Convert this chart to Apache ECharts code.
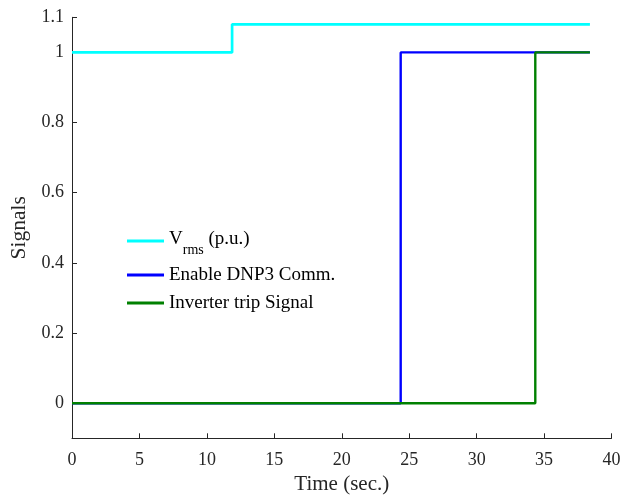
<!DOCTYPE html>
<html>
<head>
<meta charset="utf-8">
<script src="https://cdn.jsdelivr.net/npm/echarts@6/dist/echarts.min.js"></script>
<style>html,body{margin:0;padding:0;background:#fff}#c{width:630px;height:496px}</style>
</head>
<body>
<div id="c"></div>
<script>
const vrmsTime = [0, 11.87, 11.87, 38.4];
const vrmsValue = [1, 1, 1.08, 1.08];
const dnpTime = [0, 24.37, 24.37, 38.4];
const dnpValue = [0, 0, 1, 1];
const tripTime = [0, 34.35, 34.35, 38.4];
const tripValue = [0, 0, 1, 1];
const xTicks = [0, 5, 10, 15, 20, 25, 30, 35, 40];
const yTicks = [0, 0.2, 0.4, 0.6, 0.8, 1, 1.1];
const seriesNames = ['Vrms', 'Enable DNP3 Comm.', 'Inverter trip Signal'];

function pairs(t, v) { return t.map((x, i) => [x, v[i]]); }

const font = 'Liberation Serif';
const ink = '#262626';
const chart = echarts.init(document.getElementById('c'), null, {renderer: 'canvas'});
chart.setOption({
  animation: false,
  backgroundColor: '#fff',
  grid: {left: 72, right: 18.5, top: 17.3, bottom: 57.7, containLabel: false, outerBoundsMode: 'none'},
  legend: {
    orient: 'vertical',
    left: 122, top: 220,
    itemWidth: 37, itemHeight: 3, itemGap: 8,
    icon: 'rect',
    textStyle: {
      fontFamily: font, fontSize: 19, lineHeight: 20, color: '#000',
      rich: {
        a: {fontFamily: font, fontSize: 19, lineHeight: 20, color: '#000', padding: [4, 0, 7, 0]},
        s: {fontFamily: font, fontSize: 14, lineHeight: 14, color: '#000', padding: [18, 0, 0, 0]}
      }
    },
    formatter: function (n) {
      if (n === 'Vrms') return '{a|V}{s|rms}{a| (p.u.)}';
      return n;
    },
    data: seriesNames
  },
  xAxis: {
    type: 'value', min: 0, max: 40, interval: 5,
    name: 'Time (sec.)', nameLocation: 'middle', nameGap: 31,
    nameTextStyle: {fontFamily: font, fontSize: 21, color: ink},
    axisLine: {onZero: false, lineStyle: {color: ink, width: 1}},
    axisTick: {inside: true, length: 5, lineStyle: {color: ink}, customValues: xTicks},
    axisLabel: {fontFamily: font, fontSize: 18, color: ink, margin: 13, customValues: xTicks},
    splitLine: {show: false}
  },
  yAxis: {
    type: 'value', min: -0.1, max: 1.1,
    name: 'Signals', nameLocation: 'middle', nameGap: 35,
    nameTextStyle: {fontFamily: font, fontSize: 21.5, color: ink},
    axisLine: {show: true, onZero: false, lineStyle: {color: ink, width: 1}},
    axisTick: {show: true, inside: true, length: 5, lineStyle: {color: ink}, customValues: yTicks},
    axisLabel: {fontFamily: font, fontSize: 18, color: ink, margin: 8, customValues: yTicks},
    splitLine: {show: false}
  },
  series: [
    {name: seriesNames[0], type: 'line', data: pairs(vrmsTime, vrmsValue), symbol: 'none', color: '#00FFFF', lineStyle: {width: 2.7}},
    {name: seriesNames[1], type: 'line', data: pairs(dnpTime, dnpValue), symbol: 'none', color: '#0000FF', lineStyle: {width: 2.4}},
    {name: seriesNames[2], type: 'line', data: pairs(tripTime, tripValue), symbol: 'none', color: '#008000', lineStyle: {width: 2.4}}
  ]
});
</script>
</body>
</html>
